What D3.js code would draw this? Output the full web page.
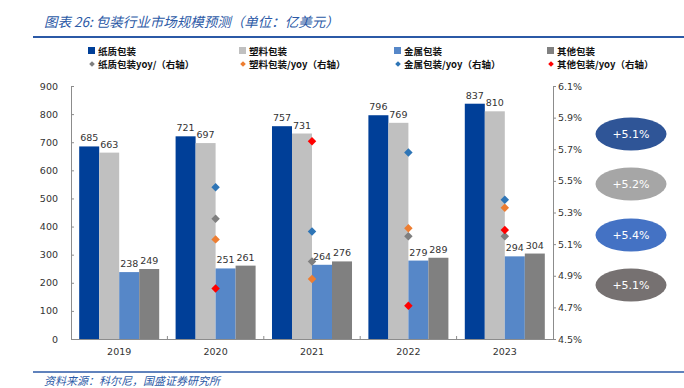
<!DOCTYPE html>
<html><head><meta charset="utf-8">
<script src="https://cdn.jsdelivr.net/npm/d3@7"></script>
<style>body{margin:0;background:#fff}svg{display:block}</style>
</head><body>
<svg id="c" width="684" height="388"></svg>
<script>
const years = ["2019","2020","2021","2022","2023"];
const seriesNames = ["纸质包装","塑料包装","金属包装","其他包装"];
const paper = [685,721,757,796,837];
const plastic = [663,697,731,769,810];
const metal = [238,251,264,279,294];
const other = [249,261,276,289,304];
const yoyNames = ["纸质包装yoy/（右轴）","塑料包装/yoy（右轴）","金属包装/yoy（右轴）","其他包装/yoy（右轴）"];
const paperYoy = [null,5.26,4.99,5.15,5.15];
const plasticYoy = [null,5.13,4.88,5.20,5.33];
const metalYoy = [null,5.46,5.18,5.68,5.38];
const otherYoy = [null,4.82,5.75,4.71,5.19];
const leftTicks = [0,100,200,300,400,500,600,700,800,900];
const rightTicks = [4.5,4.7,4.9,5.1,5.3,5.5,5.7,5.9,6.1];
const cagrLabels = ["+5.1%","+5.2%","+5.4%","+5.1%"];

const barColors = ["#003F98","#C0C0C0","#5687C8","#808080"];
const yoyColors = ["#7F7F7F","#ED7D31","#2E75B6","#FF0000"];
const cagrColors = ["#2F5597","#A6A6A6","#4472C4","#767171"];

const svg = d3.select("#c");
const titleColor = "#2B59A6";
const numFont = "'DejaVu Sans', Verdana, sans-serif";
const cjk = "'Noto Sans CJK SC', sans-serif";

// title
svg.append("text").attr("x",44).attr("y",27).attr("font-family",cjk).attr("font-style","italic")
  .attr("font-size",13.5).attr("fill",titleColor).text("图表 26:  包装行业市场规模预测（单位：亿美元）");
svg.append("line").attr("x1",33).attr("x2",684).attr("y1",37).attr("y2",37).attr("stroke",titleColor).attr("stroke-width",2);

// footer
svg.append("line").attr("x1",33).attr("x2",684).attr("y1",372).attr("y2",372).attr("stroke",titleColor).attr("stroke-width",1.5);
svg.append("text").attr("x",44).attr("y",385).attr("font-family",cjk).attr("font-style","italic")
  .attr("font-size",11).attr("fill",titleColor).text("资料来源：科尔尼，国盛证券研究所");

// scales
const x0 = d3.scaleBand().domain(years).range([71,553]).paddingInner(0.17).paddingOuter(0.085);
const x1 = d3.scaleBand().domain(seriesNames).range([0,x0.bandwidth()]);
const yL = d3.scaleLinear().domain([0,900]).range([339,86]);
const yR = d3.scaleLinear().domain([4.5,6.1]).range([339,86]);

const data = [paper,plastic,metal,other];
const axisColor = "#8C8C8C";

// left axis (ticks inward)
const gl = svg.append("g").attr("transform","translate(71,0)")
  .call(d3.axisLeft(yL).tickValues(leftTicks).tickSizeInner(-3).tickSizeOuter(-3).tickPadding(13));
gl.selectAll("text").attr("font-family",numFont).attr("font-size",9.5).attr("fill","#333");
gl.selectAll("line,path").attr("stroke",axisColor);
// right axis
const gr = svg.append("g").attr("transform","translate(553,0)")
  .call(d3.axisRight(yR).tickValues(rightTicks).tickFormat(d=>d.toFixed(1)+"%").tickSize(3).tickPadding(2));
gr.selectAll("text").attr("font-family",numFont).attr("font-size",9.5).attr("fill","#333");
gr.selectAll("line,path").attr("stroke",axisColor);

// bars
data.forEach((arr,si)=>{
  const g = svg.append("g");
  g.selectAll("rect").data(arr).join("rect")
    .attr("x",(d,i)=>x0(years[i])+x1(seriesNames[si]))
    .attr("width",x1.bandwidth())
    .attr("y",d=>yL(d)).attr("height",d=>yL(0)-yL(d))
    .attr("fill",barColors[si]);
  g.selectAll("text").data(arr).join("text")
    .attr("x",(d,i)=>x0(years[i])+x1(seriesNames[si])+x1.bandwidth()/2)
    .attr("y",d=>yL(d)-5).attr("text-anchor","middle")
    .attr("font-family",numFont).attr("font-size",9.5).attr("fill","#333").text(d=>d);
});

// x axis
const gx = svg.append("g").attr("transform","translate(0,339)")
  .call(d3.axisBottom(x0).tickSize(0).tickPadding(9));
gx.selectAll("text").attr("font-family",numFont).attr("font-size",9.5).attr("fill","#333");
gx.select("path").attr("stroke",axisColor).attr("d","M71,0.5H553");
// small separators between year groups
const step = x0.step();
gx.append("g").selectAll("line").data(years.slice(1)).join("line")
  .attr("x1",d=>x0(d)-x0.paddingInner()*step/2).attr("x2",d=>x0(d)-x0.paddingInner()*step/2)
  .attr("y1",0).attr("y2",-3).attr("stroke",axisColor);

// yoy diamonds (rotated squares)
[paperYoy,plasticYoy,metalYoy,otherYoy].forEach((arr,si)=>{
  svg.append("g").selectAll("rect").data(arr.map((v,i)=>({v,i})).filter(d=>d.v!=null)).join("rect")
    .attr("x",-3).attr("y",-3).attr("width",6).attr("height",6)
    .attr("transform",d=>`translate(${x0(years[d.i])+x0.bandwidth()/2},${yR(d.v)}) rotate(45)`)
    .attr("fill",yoyColors[si]);
});

// legend
const legX = [94,245,400,553];
seriesNames.forEach((n,i)=>{
  svg.append("rect").attr("x",legX[i]-6).attr("y",47).attr("width",7).attr("height",7).attr("fill",barColors[i]);
  svg.append("text").attr("x",legX[i]+4).attr("y",54.5).attr("font-family",cjk).attr("font-weight","bold")
    .attr("font-size",9.5).attr("fill","#111").text(n);
});
yoyNames.forEach((n,i)=>{
  svg.append("rect").attr("x",-2).attr("y",-2).attr("width",4).attr("height",4)
    .attr("transform",`translate(${legX[i]-2},64) rotate(45)`).attr("fill",yoyColors[i]);
  svg.append("text").attr("x",legX[i]+4).attr("y",67.5).attr("font-family",cjk).attr("font-weight","bold")
    .attr("font-size",9.5).attr("fill","#111").text(n);
});

// CAGR ellipses
const ellY = [134,184,235,285];
cagrLabels.forEach((t,i)=>{
  svg.append("ellipse").attr("cx",631).attr("cy",ellY[i]).attr("rx",35.5).attr("ry",16.5).attr("fill",cagrColors[i]);
  svg.append("text").attr("x",631).attr("y",ellY[i]+4).attr("text-anchor","middle").attr("font-family",numFont)
    .attr("font-size",11).attr("fill","#fff").text(t);
});
</script>
</body></html>
